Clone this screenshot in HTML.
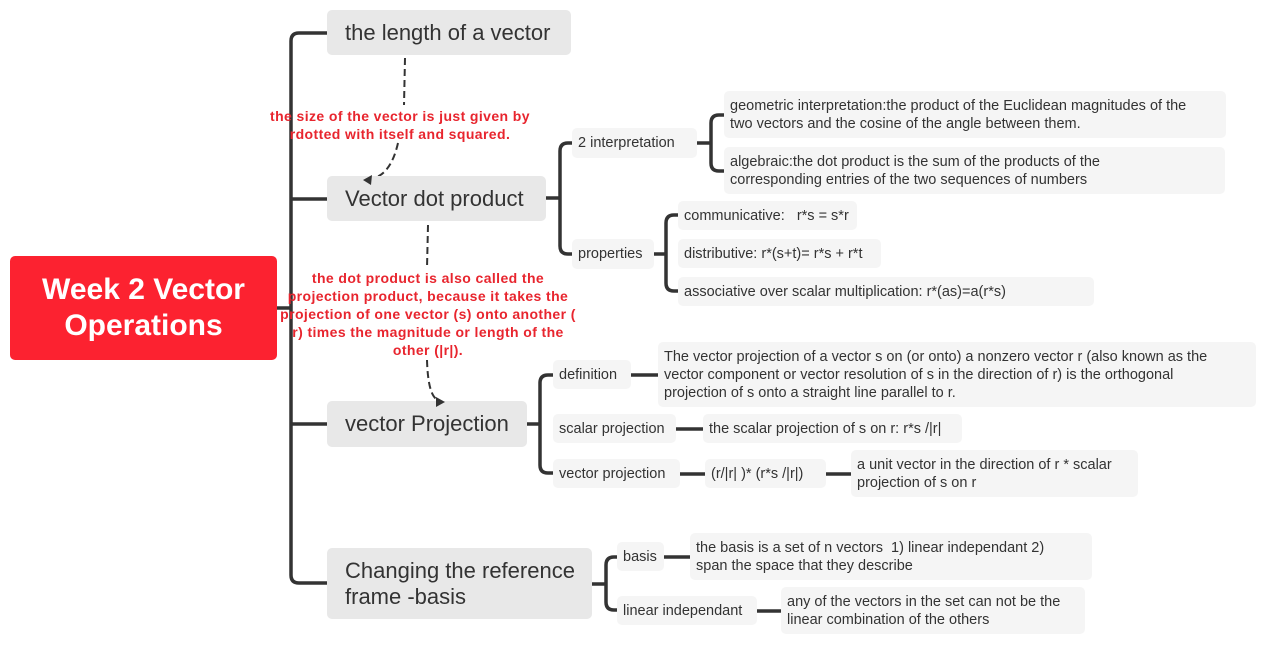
<!DOCTYPE html>
<html><head><style>
body{margin:0;width:1266px;height:645px;background:#fff;position:relative;overflow:hidden;font-family:"Liberation Sans",sans-serif;}
.b{position:absolute;box-sizing:border-box;border-radius:5px;color:#333;white-space:nowrap;}
.m{background:#e8e8e8;font-size:22px;padding-left:18px;display:flex;align-items:center;line-height:26px;}
.s{background:#f5f5f5;font-size:14.5px;padding-left:6px;display:flex;align-items:center;line-height:18px;}
.r{position:absolute;color:#e8252e;font-weight:bold;font-size:14px;text-align:center;line-height:18px;letter-spacing:0.4px;white-space:nowrap;}
</style></head><body>
<svg width="1266" height="645" style="position:absolute;left:0;top:0">
<g fill="none" stroke="#333" stroke-width="3.5">
<path d="M327 33 H299 Q291 33 291 41 V575 Q291 583 299 583 H327"/>
<path d="M291 199 H327 M291 424 H327 M277 308 H291"/>
<path d="M546 198 H560 M572 143 H568 Q560 143 560 151 V246 Q560 254 568 254 H572"/>
<path d="M697 143 H711 M724 115 H719 Q711 115 711 123 V163 Q711 171 719 171 H724"/>
<path d="M654 254 H666 M678 215 H674 Q666 215 666 223 V283 Q666 291 674 291 H678"/>
<path d="M527 424 H540 M553 375 H548 Q540 375 540 383 V465 Q540 473 548 473 H553"/>
<path d="M631 375 H658 M676 429 H703 M680 474 H705 M826 474 H851"/>
<path d="M592 584 H606 M617 557 H614 Q606 557 606 565 V602 Q606 610 614 610 H617"/>
<path d="M664 557 H690 M757 611 H781"/>
</g>
<g fill="none" stroke="#333" stroke-width="2" stroke-dasharray="7,4">
<path d="M405 58 L404 105"/>
<path d="M398 143 Q390 178 368 179"/>
<path d="M428 225 L427 268"/>
<path d="M427 360 Q428 396 438 400"/>
</g>
</svg>
<div class="b" style="left:10px;top:256px;width:267px;height:104px;background:#fc2230;color:#fff;font-weight:bold;font-size:30px;line-height:36px;display:flex;align-items:center;justify-content:center;text-align:center;">Week 2 Vector<br>Operations</div>
<div class="b m" style="left:327px;top:10px;width:244px;height:45px;">the length of a vector</div>
<div class="b m" style="left:327px;top:176px;width:219px;height:45px;">Vector dot product</div>
<div class="b m" style="left:327px;top:401px;width:200px;height:46px;">vector Projection</div>
<div class="b m" style="left:327px;top:548px;width:265px;height:71px;">Changing the reference<br>frame -basis</div>
<div class="b s" style="left:572px;top:128px;width:125px;height:30px;">2 interpretation</div>
<div class="b s" style="left:572px;top:239px;width:82px;height:30px;">properties</div>
<div class="b s" style="left:724px;top:91px;width:502px;height:47px;">geometric interpretation:the product of the Euclidean magnitudes of the<br>two vectors and the cosine of the angle between them.</div>
<div class="b s" style="left:724px;top:147px;width:501px;height:47px;">algebraic:the dot product is the sum of the products of the<br>corresponding entries of the two sequences of numbers</div>
<div class="b s" style="left:678px;top:201px;width:179px;height:29px;">communicative: &nbsp; r*s = s*r</div>
<div class="b s" style="left:678px;top:239px;width:203px;height:29px;">distributive: r*(s+t)= r*s + r*t</div>
<div class="b s" style="left:678px;top:277px;width:416px;height:29px;">associative over scalar multiplication: r*(as)=a(r*s)</div>
<div class="b s" style="left:553px;top:360px;width:78px;height:29px;">definition</div>
<div class="b s" style="left:658px;top:342px;width:598px;height:65px;">The vector projection of a vector s on (or onto) a nonzero vector r (also known as the<br>vector component or vector resolution of s in the direction of r) is the orthogonal<br>projection of s onto a straight line parallel to r.</div>
<div class="b s" style="left:553px;top:414px;width:123px;height:29px;">scalar projection</div>
<div class="b s" style="left:703px;top:414px;width:259px;height:29px;">the scalar projection of s on r: r*s /|r|</div>
<div class="b s" style="left:553px;top:459px;width:127px;height:29px;">vector projection</div>
<div class="b s" style="left:705px;top:459px;width:121px;height:29px;">(r/|r| )* (r*s /|r|)</div>
<div class="b s" style="left:851px;top:450px;width:287px;height:47px;">a unit vector in the direction of r * scalar<br>projection of s on r</div>
<div class="b s" style="left:617px;top:542px;width:47px;height:29px;">basis</div>
<div class="b s" style="left:690px;top:533px;width:402px;height:47px;">the basis is a set of n vectors &nbsp;1) linear independant 2)<br>span the space that they describe</div>
<div class="b s" style="left:617px;top:596px;width:140px;height:29px;">linear independant</div>
<div class="b s" style="left:781px;top:587px;width:304px;height:47px;">any of the vectors in the set can not be the<br>linear combination of the others</div>
<div class="r" style="left:250px;top:107px;width:300px;">the size of the vector is just given by<br>rdotted with itself and squared.</div>
<div class="r" style="left:260px;top:269px;width:336px;">the dot product is also called the<br>projection product, because it takes the<br>projection of one vector (s) onto another (<br>r) times the magnitude or length of the<br>other (|r|).</div>
<svg width="1266" height="645" style="position:absolute;left:0;top:0;pointer-events:none">
<path d="M363 180 L372 175 L371 185 Z" fill="#333"/>
<path d="M445 402 L436 397 L436 407 Z" fill="#333"/>
</svg>
</body></html>
